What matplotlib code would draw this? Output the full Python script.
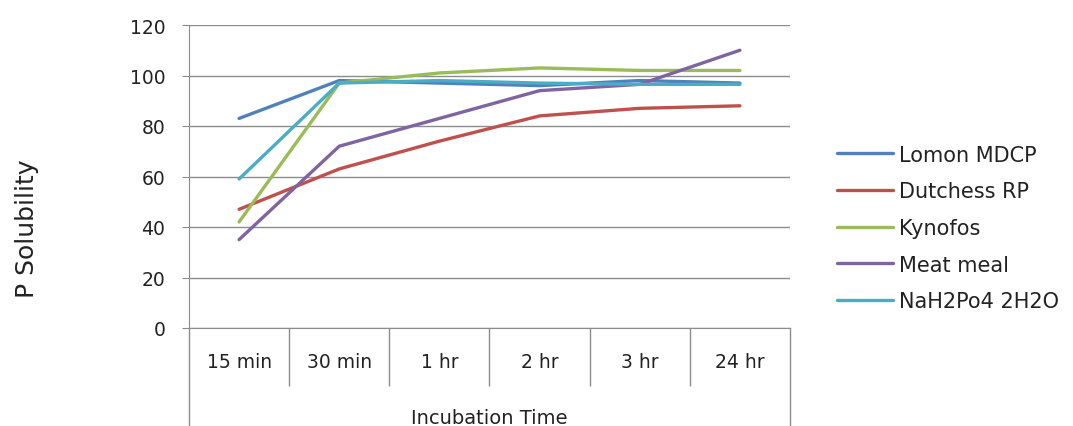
import matplotlib
matplotlib.use("Agg")
import matplotlib.pyplot as plt
import numpy as np

# ── Data ──────────────────────────────────────────────────────────────────────
times = ["15 min", "30 min", "1 hr", "2 hr", "3 hr", "24 hr"]

lomon_mdcp  = [83, 98, 97, 96, 98, 97]
dutchess_rp = [47, 63, 74, 84, 87, 88]
kynofos     = [42, 97, 101, 103, 102, 102]
meat_meal   = [35, 72, 83, 94, 96.5, 110]
nah2po4     = [59, 97, 98, 97, 96.5, 96.5]

series = [
    ("Lomon MDCP",    lomon_mdcp,  "#4F81BD"),
    ("Dutchess RP",   dutchess_rp, "#C0504D"),
    ("Kynofos",       kynofos,     "#9BBB59"),
    ("Meat meal",     meat_meal,   "#8064A2"),
    ("NaH2Po4 2H2O",  nah2po4,     "#4BACC6"),
]

# ── Style ─────────────────────────────────────────────────────────────────────
plt.rcParams.update({
    "font.family": ["DejaVu Sans"],
    "font.size": 13,
    "text.color": "#222222",
})
GRID = "#8c8c8c"

fig = plt.figure(figsize=(10.73, 4.27), dpi=100)
ax = fig.add_axes([189 / 1073, 1 - 329 / 427, 601 / 1073, 303 / 427])

x = np.arange(len(times))
for name, vals, color in series:
    ax.plot(x, vals, color=color, linewidth=2.4, label=name,
            solid_capstyle="round")

ax.set_xlim(-0.5, len(times) - 0.5)
ax.set_ylim(0, 120)
ax.set_yticks(range(0, 121, 20))
ax.yaxis.grid(True, color=GRID, linewidth=1)
ax.set_axisbelow(True)

for side in ["top", "right"]:
    ax.spines[side].set_visible(False)
ax.spines["left"].set_color(GRID)
ax.spines["bottom"].set_color(GRID)

# interior category boundaries as long ticks (Excel-style)
ax.set_xticks(np.arange(1, len(times)) - 0.5)
ax.set_xticklabels([])
ax.tick_params(axis="x", length=42, color=GRID, width=1)
ax.tick_params(axis="y", length=5, color=GRID, labelsize=13.5, pad=12,
               labelcolor="#222222")

for i, t in enumerate(times):
    ax.annotate(t, xy=(i, 0), xytext=(0, -24), textcoords="offset points",
                ha="center", va="center", fontsize=13.5, color="#222222",
                annotation_clip=False)

# outer category lines run down to the bottom edge
for edge in (-0.5, len(times) - 0.5):
    ax.plot([edge, edge], [0, -45], color=GRID, linewidth=1, clip_on=False)

fig.text((189 + 790) / 2 / 1073, 1 - 419 / 427, "Incubation Time",
         ha="center", va="center", fontsize=14)
fig.text(27 / 1073, 1 - 229 / 427, "P Solubility", rotation=90,
         ha="center", va="center", fontsize=18)

ax.legend(loc="center left", bbox_to_anchor=(818 / 1073, 1 - 229 / 427),
          bbox_transform=fig.transFigure, frameon=False, fontsize=15,
          handlelength=2.7, labelspacing=0.8, handletextpad=0.3)

fig.savefig("out.png", dpi=100)
